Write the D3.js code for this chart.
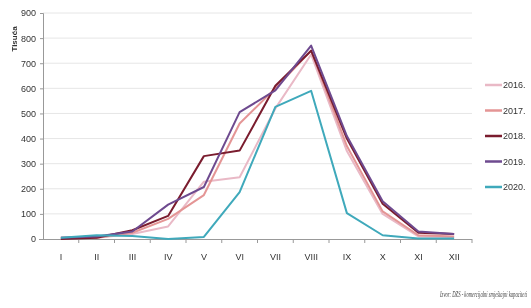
<!DOCTYPE html>
<html>
<head>
<meta charset="utf-8">
<script src="https://cdn.jsdelivr.net/npm/d3@7"></script>
<style>
  body { margin: 0; background: #fff; }
  svg { display: block; filter: blur(0.35px); }
</style>
</head>
<body>
<div id="chart"></div>
<script>
const months = ["I", "II", "III", "IV", "V", "VI", "VII", "VIII", "IX", "X", "XI", "XII"];
const yTicks = [0, 100, 200, 300, 400, 500, 600, 700, 800, 900];

const y2016 = [5, 5, 20, 50, 228, 246, 520, 735, 350, 100, 10, 8];
const y2017 = [5, 5, 25, 80, 175, 460, 600, 750, 370, 110, 15, 10];
const y2018 = [0, 5, 35, 92, 330, 352, 610, 750, 400, 140, 25, 20];
const y2019 = [5, 10, 30, 137, 207, 505, 592, 770, 410, 150, 30, 20];
const y2020 = [5, 15, 12, 0, 8, 187, 526, 590, 103, 15, 2, 2];

const seriesNames = ["2016.", "2017.", "2018.", "2019.", "2020."];
const seriesColors = ["#e9b9c6", "#e49595", "#7a1c2e", "#6e4a8f", "#3fa9bb"];
const seriesData = [y2016, y2017, y2018, y2019, y2020];

const width = 531, height = 308;
const svg = d3.select("#chart")
  .append("svg")
  .attr("width", width)
  .attr("height", height);

const x = d3.scaleBand()
  .domain(months)
  .range([43, 472]);

const y = d3.scaleLinear()
  .domain([0, 900])
  .range([239, 13]);

// gridlines
svg.append("g")
  .selectAll("line")
  .data(yTicks.filter(d => d > 0))
  .join("line")
  .attr("x1", 43)
  .attr("x2", 472)
  .attr("y1", d => y(d))
  .attr("y2", d => y(d))
  .attr("stroke", "#e6e6e6")
  .attr("stroke-width", 1);

// y axis
const yAxis = svg.append("g")
  .attr("transform", "translate(43,0)")
  .call(d3.axisLeft(y).tickValues(yTicks).tickSize(3).tickPadding(4));
yAxis.select(".domain").attr("stroke", "#999");
yAxis.selectAll(".tick line").attr("stroke", "#999");
yAxis.selectAll("text")
  .style("font-family", "'Liberation Sans Narrow', 'Arial Narrow', sans-serif")
  .style("font-size", "9px")
  .attr("fill", "#333");

// x axis
const xAxis = svg.append("g")
  .attr("transform", `translate(0,${y(0)})`)
  .call(d3.axisBottom(x).tickSize(0).tickPadding(15));
xAxis.select(".domain").attr("stroke", "#999").attr("d", "M39,0.5H472");
xAxis.selectAll("text")
  .style("font-family", "'Liberation Sans Narrow', 'Arial Narrow', sans-serif")
  .style("font-size", "9px")
  .attr("fill", "#333");

// x boundary ticks
svg.append("g")
  .selectAll("line")
  .data(months)
  .join("line")
  .attr("x1", d => x(d) + x.bandwidth())
  .attr("x2", d => x(d) + x.bandwidth())
  .attr("y1", y(0))
  .attr("y2", y(0) + 4)
  .attr("stroke", "#999");

// y title
svg.append("text")
  .text("Tisuća")
  .attr("transform", "translate(17,39) rotate(-90)")
  .attr("text-anchor", "middle")
  .style("font-family", "'Liberation Sans Narrow', 'Arial Narrow', sans-serif")
  .style("font-size", "8px")
  .style("font-weight", "bold")
  .attr("fill", "#333");

// lines
const line = d3.line()
  .x((d, i) => x(months[i]) + x.bandwidth() / 2)
  .y(d => y(d));

svg.append("g")
  .selectAll("path")
  .data(seriesData)
  .join("path")
  .attr("d", d => line(d))
  .attr("fill", "none")
  .attr("stroke", (d, i) => seriesColors[i])
  .attr("stroke-width", 2)
  .attr("stroke-linejoin", "round");

// legend
const legend = svg.append("g")
  .selectAll("g")
  .data(seriesNames)
  .join("g")
  .attr("transform", (d, i) => `translate(485, ${85 + i * 25.5})`);

legend.append("line")
  .attr("x1", 0)
  .attr("x2", 17)
  .attr("stroke", (d, i) => seriesColors[i])
  .attr("stroke-width", 2.5);

legend.append("text")
  .text(d => d)
  .attr("x", 18)
  .attr("y", 3)
  .style("font-family", "'Liberation Sans Narrow', 'Arial Narrow', sans-serif")
  .style("font-size", "9px")
  .attr("fill", "#333");

// source (condensed italic, squeezed with a horizontal scale)
svg.append("text")
  .text("Izvor: DZS - komercijalni smještajni kapaciteti")
  .attr("transform", "translate(527,297) scale(0.62,1)")
  .attr("text-anchor", "end")
  .style("font-family", "'Liberation Serif', serif")
  .style("font-style", "italic")
  .style("font-size", "7.5px")
  .attr("fill", "#444");
</script>
</body>
</html>
